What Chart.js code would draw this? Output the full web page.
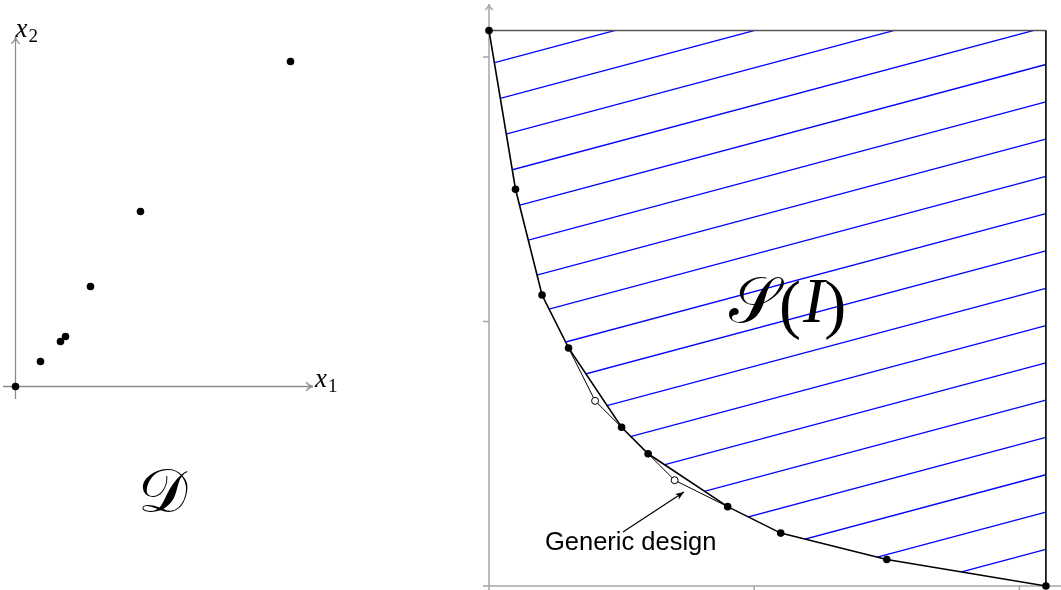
<!DOCTYPE html>
<html>
<head>
<meta charset="utf-8">
<title>Design space and objective space</title>
<script src="https://cdn.jsdelivr.net/npm/chart.js@4.4.1/dist/chart.umd.min.js"></script>
<style>
  body { margin: 0; background: #fff; }
  canvas { position: absolute; top: 0; }
  #left { left: 0; }
  #right { left: 460px; }
</style>
</head>
<body>
<canvas id="left" width="460" height="590"></canvas>
<canvas id="right" width="601" height="590"></canvas>
<script>
// design points (x1, x2)
var designX = [0, 1, 1.8, 2, 3, 5, 11];
var designY = [0, 1, 1.8, 2, 4, 7, 13];

// attainable front
var frontX = [0, 0.1, 0.2, 0.3, 0.5, 0.6, 0.9, 1.1, 1.5, 2.1];
var frontY = [2.1, 1.5, 1.1, 0.9, 0.6, 0.5, 0.3, 0.2, 0.1, 0];

// generic designs lying off the front
var genericX = [0.4, 0.7];
var genericY = [0.7, 0.4];

var axisTicks = [1, 2];

// hatching of S(I)
var hatchSlope = Math.tan(15 * Math.PI / 180);
var hatchStart = 1.973;
var hatchGap = 0.141;

function pts(xs, ys) {
  return xs.map(function (x, i) { return { x: x, y: ys[i] }; });
}

function line(ctx, x1, y1, x2, y2) {
  ctx.beginPath();
  ctx.moveTo(x1, y1);
  ctx.lineTo(x2, y2);
  ctx.stroke();
}

// tikz-like open "to" arrow head
function openArrow(ctx, x, y, ang, len) {
  var a = 0.55;
  ctx.beginPath();
  ctx.moveTo(x - len * Math.cos(ang - a), y - len * Math.sin(ang - a));
  ctx.quadraticCurveTo(x - len * 0.35 * Math.cos(ang), y - len * 0.35 * Math.sin(ang), x, y);
  ctx.quadraticCurveTo(x - len * 0.35 * Math.cos(ang), y - len * 0.35 * Math.sin(ang),
    x - len * Math.cos(ang + a), y - len * Math.sin(ang + a));
  ctx.stroke();
}

function filledArrow(ctx, x, y, ang, len) {
  var a = 0.38;
  ctx.beginPath();
  ctx.moveTo(x, y);
  ctx.lineTo(x - len * Math.cos(ang - a), y - len * Math.sin(ang - a));
  ctx.lineTo(x - len * 0.7 * Math.cos(ang), y - len * 0.7 * Math.sin(ang));
  ctx.lineTo(x - len * Math.cos(ang + a), y - len * Math.sin(ang + a));
  ctx.closePath();
  ctx.fill();
}

// x with a subscript, math style
function mathVar(ctx, x, y, sub) {
  ctx.fillStyle = '#000';
  ctx.textBaseline = 'alphabetic';
  ctx.textAlign = 'left';
  ctx.font = 'italic 27px "Liberation Serif", serif';
  ctx.fillText('x', x, y);
  var w = ctx.measureText('x').width;
  ctx.font = '19px "Liberation Serif", serif';
  ctx.fillText(sub, x + w + 1, y + 5);
}

var leftAxes = {
  id: 'leftAxes',
  beforeDatasetsDraw: function (chart) {
    var ctx = chart.ctx, sx = chart.scales.x, sy = chart.scales.y;
    var x0 = sx.getPixelForValue(0), y0 = sy.getPixelForValue(0);
    var xEnd = sx.getPixelForValue(11.9), yEnd = sy.getPixelForValue(13.98);
    ctx.save();
    ctx.strokeStyle = '#8c8c8c';
    ctx.lineWidth = 1.3;
    line(ctx, sx.getPixelForValue(-0.5), y0, xEnd, y0);
    line(ctx, x0, sy.getPixelForValue(-0.5), x0, yEnd);
    openArrow(ctx, xEnd, y0, 0, 8);
    openArrow(ctx, x0, yEnd, -Math.PI / 2, 8);
    ctx.restore();
  },
  afterDatasetsDraw: function (chart) {
    var ctx = chart.ctx, sx = chart.scales.x, sy = chart.scales.y;
    ctx.save();
    mathVar(ctx, sx.getPixelForValue(11.9) + 2, sy.getPixelForValue(0), '1');
    mathVar(ctx, sx.getPixelForValue(0), sy.getPixelForValue(13.98), '2');
    ctx.font = '62px "Liberation Serif", "DejaVu Serif", serif';
    ctx.textAlign = 'left';
    ctx.fillText('\u{1D49F}', sx.getPixelForValue(4.9), sy.getPixelForValue(-5.0));
    ctx.restore();
  }
};

var rightDecor = {
  id: 'rightDecor',
  beforeDatasetsDraw: function (chart) {
    var ctx = chart.ctx, sx = chart.scales.x, sy = chart.scales.y;
    var maxX = Math.max.apply(null, frontX), maxY = Math.max.apply(null, frontY);
    ctx.save();
    // hatched region above the front
    ctx.beginPath();
    frontX.forEach(function (x, i) {
      var X = sx.getPixelForValue(x), Y = sy.getPixelForValue(frontY[i]);
      if (i === 0) ctx.moveTo(X, Y); else ctx.lineTo(X, Y);
    });
    ctx.lineTo(sx.getPixelForValue(maxX), sy.getPixelForValue(maxY));
    ctx.closePath();
    ctx.clip();
    ctx.strokeStyle = '#0000ff';
    ctx.lineWidth = 1.3;
    for (var c = hatchStart; c > -hatchSlope * maxX; c -= hatchGap) {
      line(ctx, sx.getPixelForValue(0), sy.getPixelForValue(c),
        sx.getPixelForValue(maxX), sy.getPixelForValue(c + hatchSlope * maxX));
    }
    ctx.restore();

    // axes with ticks
    var x0 = sx.getPixelForValue(0), y0 = sy.getPixelForValue(0), tick = 6;
    ctx.save();
    ctx.strokeStyle = '#a6a6a6';
    ctx.lineWidth = 1.5;
    var yTop = sy.getPixelForValue(2.2);
    line(ctx, x0 - tick, y0, chart.chartArea.right, y0);
    line(ctx, x0, chart.chartArea.bottom, x0, yTop);
    openArrow(ctx, x0, yTop, -Math.PI / 2, 7);
    axisTicks.forEach(function (t) {
      var tx = sx.getPixelForValue(t), ty = sy.getPixelForValue(t);
      line(ctx, tx, y0, tx, y0 + tick);
      line(ctx, x0 - tick, ty, x0, ty);
    });
    ctx.restore();
  },
  afterDatasetsDraw: function (chart) {
    var ctx = chart.ctx, sx = chart.scales.x, sy = chart.scales.y;
    ctx.save();
    ctx.fillStyle = '#000';
    ctx.textBaseline = 'alphabetic';
    ctx.textAlign = 'left';
    // S(I)
    var bx = sx.getPixelForValue(0.905), by = sy.getPixelForValue(1.0);
    ctx.font = '64px "Liberation Serif", "DejaVu Serif", serif';
    ctx.fillText('\u{1D4AE}', bx, by);
    bx += ctx.measureText('\u{1D4AE}').width;
    ctx.font = '66px "Liberation Serif", serif';
    ctx.fillText('(', bx, by + 4);
    bx += ctx.measureText('(').width + 2;
    ctx.font = 'italic 64px "Liberation Serif", serif';
    ctx.fillText('I', bx, by);
    bx += ctx.measureText('I').width;
    ctx.font = '66px "Liberation Serif", serif';
    ctx.fillText(')', bx, by + 4);

    // annotation
    ctx.font = '25.5px "Liberation Sans", sans-serif';
    ctx.fillText('Generic design', sx.getPixelForValue(0.211), sy.getPixelForValue(0.136));
    var ax = sx.getPixelForValue(0.505), ay = sy.getPixelForValue(0.204);
    var tx = sx.getPixelForValue(0.735), ty = sy.getPixelForValue(0.355);
    ctx.strokeStyle = '#000';
    ctx.lineWidth = 1.2;
    line(ctx, ax, ay, tx, ty);
    filledArrow(ctx, tx, ty, Math.atan2(ty - ay, tx - ax), 9);
    ctx.restore();
  }
};

// detours from the front through each generic design
var detour = [];
genericX.forEach(function (gx, i) {
  for (var j = 0; j < frontX.length - 1; j++) {
    if (frontX[j] < gx && gx < frontX[j + 1]) {
      detour.push({ x: frontX[j], y: frontY[j] });
      detour.push({ x: gx, y: genericY[i] });
      detour.push({ x: frontX[j + 1], y: frontY[j + 1] });
      detour.push({ x: frontX[j + 1], y: null });
    }
  }
});

var maxX = Math.max.apply(null, frontX), maxY = Math.max.apply(null, frontY);
var boundary = [
  { x: frontX[0], y: maxY },
  { x: maxX, y: maxY },
  { x: maxX, y: frontY[frontY.length - 1] }
];

var common = {
  responsive: false,
  animation: false,
  events: [],
  layout: { padding: 0, autoPadding: false },
  plugins: { legend: { display: false }, tooltip: { enabled: false } }
};

new Chart(document.getElementById('left'), {
  type: 'scatter',
  data: {
    datasets: [{
      data: pts(designX, designY),
      pointRadius: 3.8,
      pointBorderWidth: 0,
      pointBackgroundColor: '#000',
      clip: false
    }]
  },
  options: Object.assign({}, common, {
    scales: {
      x: { type: 'linear', display: false, min: -0.62, max: 17.78 },
      y: { type: 'linear', display: false, min: -8.14, max: 15.46 }
    }
  }),
  plugins: [leftAxes]
});

new Chart(document.getElementById('right'), {
  type: 'scatter',
  data: {
    datasets: [{
      data: pts(frontX, frontY),
      showLine: true,
      borderColor: '#000',
      borderWidth: 1.6,
      pointRadius: 3.8,
      pointBorderWidth: 0,
      pointBackgroundColor: '#000',
      clip: false
    }, {
      data: pts(genericX, genericY),
      pointRadius: 3.5,
      pointBorderWidth: 1,
      pointBorderColor: '#000',
      pointBackgroundColor: '#fff',
      clip: false
    }, {
      data: detour,
      showLine: true,
      spanGaps: false,
      borderColor: '#000',
      borderWidth: 1,
      pointRadius: 0,
      clip: false
    }, {
      data: boundary,
      showLine: true,
      borderWidth: 1.6,
      pointRadius: 0,
      segment: {
        borderColor: function (c) { return c.p0DataIndex === 0 ? '#555' : '#000'; }
      },
      clip: false
    }]
  },
  options: Object.assign({}, common, {
    scales: {
      x: { type: 'linear', display: false, min: -0.10935, max: 2.1569 },
      y: { type: 'linear', display: false, min: -0.0151, max: 2.2155 }
    }
  }),
  plugins: [rightDecor]
});
</script>
</body>
</html>
